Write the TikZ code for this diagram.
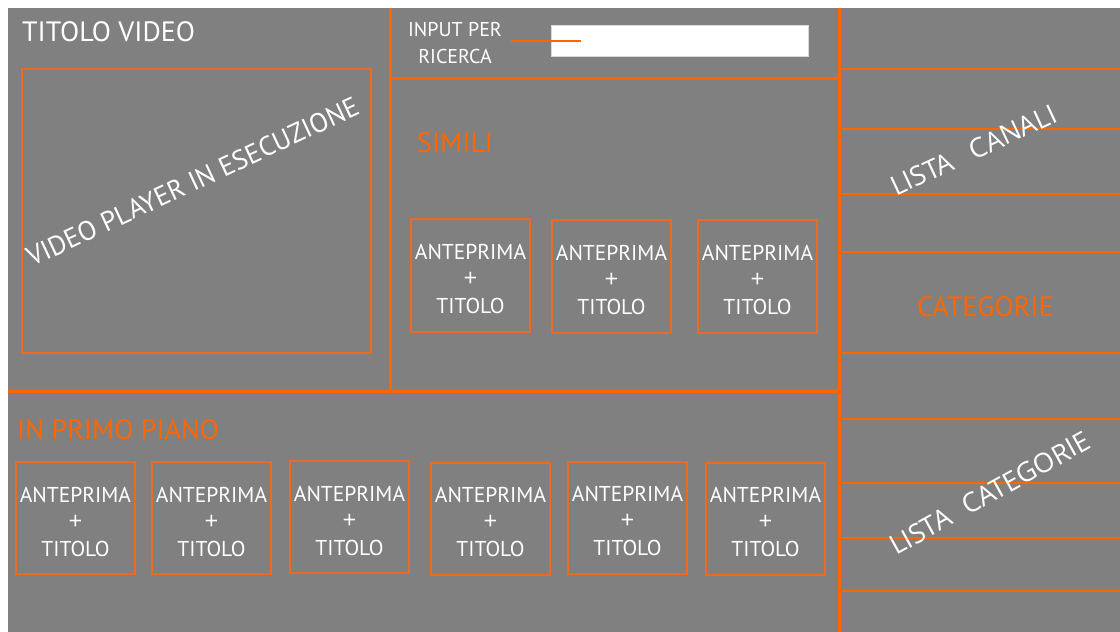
\documentclass[tikz,border=0pt]{standalone}
\usepackage{fontspec}
\setmainfont{PT Sans}
\newfontfamily\osans{Open Sans}
\definecolor{bggray}{HTML}{808080}
\definecolor{org}{HTML}{FF6600}
\definecolor{boxorg}{HTML}{EE6A1E}
\newcommand\thumbtext{\rule{0pt}{23pt}ANTEPRIMA\\\mbox{\osans\fontsize{24}{27}\selectfont +}\\TITOLO}
\begin{document}
\begin{tikzpicture}[x=1pt,y=-1pt,
  mainline/.style={draw=org, line width=3pt},
  sideline/.style={draw=org, line width=2.5pt},
  thumb/.style={draw=boxorg, line width=2pt, minimum width=119pt, minimum height=113pt,
    inner sep=0pt, align=center, text=white, font=\fontsize{21.5}{27}\selectfont},
  bigtxt/.style={anchor=base west, inner sep=0pt, font=\fontsize{28}{34}\selectfont},
  slant/.style={anchor=base west, inner sep=0pt, text=white, font=\osans\fontsize{27}{30}\selectfont}]
\useasboundingbox (0,0) rectangle (1120,632);
\fill[white] (0,0) rectangle (1120,632);
\fill[bggray] (8,8) rectangle (1120,632);

% main frame lines
\draw[mainline] (390,8) -- (390,391);
\draw[mainline] (839,8) -- (839,632);
\draw[mainline] (390,78) -- (839,78);
\draw[mainline] (8,391) -- (839,391);

% right column lines
\foreach \yy in {69,129,194,252,353,419,483,538,591}
  \draw[sideline] (839,\yy) -- (1120,\yy);

% title and player
\node[bigtxt, text=white] (title) at (22,41) {TITOLO VIDEO};
\node[draw=boxorg, line width=2pt, minimum width=349pt, minimum height=284pt, inner sep=0pt] (player) at (196.5,211) {};
\node[anchor=base west, inner sep=0pt, rotate=25, text=white, font=\fontsize{27.2}{34}\selectfont] (playertxt) at (32,267) {VIDEO PLAYER IN ESECUZIONE};

% search
\node[align=center, text=white, inner sep=0pt, font=\fontsize{20}{27}\selectfont] (inputlbl) at (455,43) {INPUT PER\\RICERCA};
\node[fill=white, draw=black!15, line width=0.8pt, minimum width=257pt, minimum height=31pt, inner sep=0pt] (search) at (679.5,40.5) {};
\draw[draw=org, line width=2pt] ([xshift=9pt]inputlbl.east |- search.west) -- ([xshift=30pt]search.west);

% simili
\node[bigtxt, text=org] (simili) at (417,152) {SIMILI};
\node[thumb] (s1) at (470.5,275.5) {\thumbtext};
\node[thumb] (s2) at (611.5,276.5) {\thumbtext};
\node[thumb] (s3) at (757.5,276.5) {\thumbtext};

% in primo piano
\node[bigtxt, text=org] (primo) at (17,439) {IN PRIMO PIANO};
\node[thumb, minimum height=112pt] (p1) at (75.5,518) {\thumbtext};
\node[thumb, minimum height=112pt] (p2) at (211.5,518) {\thumbtext};
\node[thumb, minimum height=112pt] (p3) at (349.5,517) {\thumbtext};
\node[thumb, minimum height=112pt] (p4) at (490.5,518.5) {\thumbtext};
\node[thumb, minimum height=112pt] (p5) at (627.5,517.5) {\thumbtext};
\node[thumb, minimum height=112pt] (p6) at (765.5,518.5) {\thumbtext};

% right column texts
\node[slant, rotate=25] (canali) at (896,197) {LISTA\hspace{20pt}CANALI};
\node[slant, rotate=29] (listacat) at (896,556) {LISTA\hspace{16pt}CATEGORIE};
\node[bigtxt, text=org] (categorie) at (917,316) {CATEGORIE};
\end{tikzpicture}
\end{document}
